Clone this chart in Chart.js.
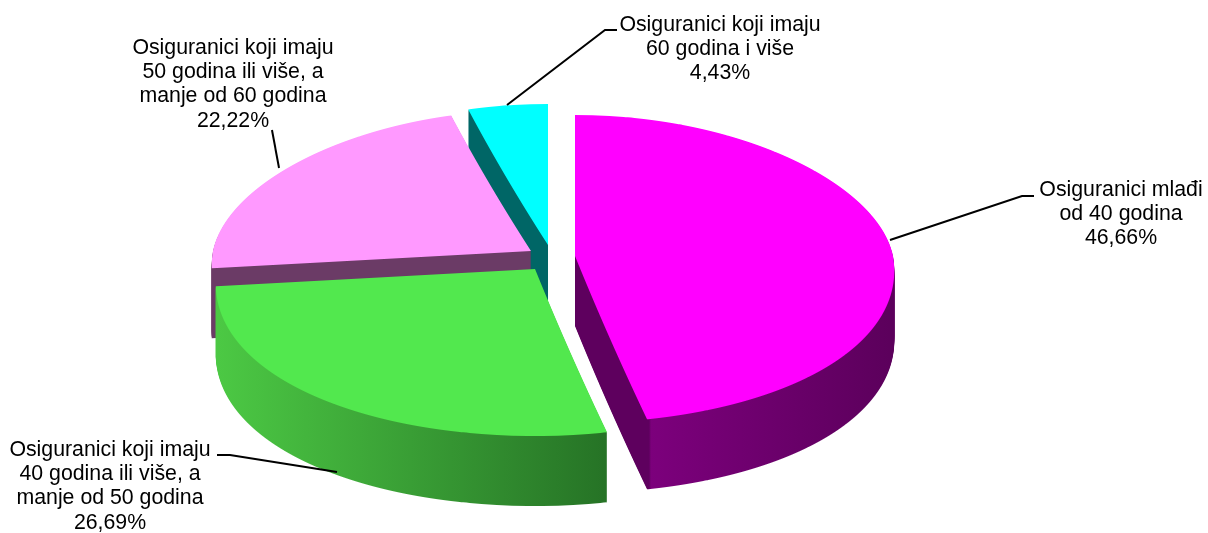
<!DOCTYPE html>
<html>
<head>
<meta charset="utf-8">
<title>Osiguranici</title>
<script src="https://cdn.jsdelivr.net/npm/chart.js@4"></script>
<style>
    html, body { margin: 0; background: #fff; }
    canvas { display: block; }
</style>
</head>
<body>
<canvas id="pie" width="1208" height="533"></canvas>
<script>
const categories = [
    ['Osiguranici mlađi', 'od 40 godina'],
    ['Osiguranici koji imaju', '40 godina ili više, a', 'manje od 50 godina'],
    ['Osiguranici koji imaju', '50 godina ili više, a', 'manje od 60 godina'],
    ['Osiguranici koji imaju', '60 godina i više']
];
const shares = [46.66, 26.69, 22.22, 4.43];
const shareLabels = ['46,66%', '26,69%', '22,22%', '4,43%'];
const faceColors = ['#ff00ff', '#52e84e', '#ff99ff', '#00ffff'];

// bočne strane, prelaz po x osi: [x, boja]
const wallStops = [
    [[575, '#5e005e'], [649, '#5e005e'], [651, '#7c007c'], [890, '#5c005c']],
    [[215, '#4cc944'], [606, '#267326']],
    [[212, '#6b3b66'], [530, '#6b3b66']],
    [[467, '#006666'], [548, '#006666']]
];
const explode = [0.0727, 0.09, 0.08, 0.087];

// izgled pite
const RX = 318, RY_BACK = 141, RY_FRONT = 167, DEPTH = 70, PERSPECTIVE = 0.09;

// tekst i linije do tekstova
const labelBoxes = [
    { x: 1121, y: 190 },
    { x: 110, y: 450 },
    { x: 233, y: 48 },
    { x: 720, y: 25 }
];
const LINE_HEIGHT = 24.3;
const leaders = [
    [[890, 240], [1022, 196], [1034, 196]],
    [[337, 472], [230, 455], [217, 455]],
    [[279, 168], [272, 130]],
    [[507, 105], [605, 30], [617, 30]]
];

function paintFace(arc, ax, ay, w, h) {
    const face = document.createElement('canvas');
    face.width = w;
    face.height = h;
    const fctx = face.getContext('2d');
    const R = arc.outerRadius;

    // crta se red po red da bi se dobila perspektiva
    for (let y = ay - RY_BACK - 4; y < ay + RY_FRONT + 4; y++) {
        const t = ay - (y + 0.5);
        const ry = t > 0 ? RY_BACK : RY_FRONT;
        const scaleX = RX * (1 - PERSPECTIVE * (t / ry)) / R;
        fctx.save();
        fctx.beginPath();
        fctx.rect(0, y, w, 1);
        fctx.clip();
        fctx.translate(ax, ay);
        fctx.scale(scaleX, ry / R);
        fctx.translate(-arc.x, -arc.y);
        arc.draw(fctx);
        fctx.restore();
    }
    return face;
}

function paintWall(face, index) {
    const wall = document.createElement('canvas');
    wall.width = face.width;
    wall.height = face.height;
    const wctx = wall.getContext('2d');
    for (let d = DEPTH; d > 0; d--) {
        wctx.drawImage(face, 0, d);
    }
    const stops = wallStops[index];
    const first = stops[0][0], last = stops[stops.length - 1][0];
    const grad = wctx.createLinearGradient(first, 0, last, 0);
    stops.forEach(s => grad.addColorStop((s[0] - first) / (last - first), s[1]));
    wctx.globalCompositeOperation = 'source-in';
    wctx.fillStyle = grad;
    wctx.fillRect(0, 0, wall.width, wall.height);
    return wall;
}

const tiltedPie = {
    id: 'tiltedPie',
    beforeDatasetsDraw(chart) {
        const ctx = chart.ctx;
        const arcs = chart.getDatasetMeta(0).data;

        // od zadnjeg ka prednjem isečku
        for (let i = arcs.length - 1; i >= 0; i--) {
            const arc = arcs[i];
            const mid = (arc.startAngle + arc.endAngle) / 2;
            const dy = Math.sin(mid);
            const ax = Math.round(arc.x + Math.cos(mid) * explode[i] * RX);
            const ay = Math.round(arc.y + dy * explode[i] * (dy < 0 ? RY_BACK : RY_FRONT));
            const face = paintFace(arc, ax, ay, chart.width, chart.height);
            ctx.drawImage(paintWall(face, i), 0, 0);
            ctx.drawImage(face, 0, 0);
        }
        return false;
    },
    afterDraw(chart) {
        const ctx = chart.ctx;
        ctx.save();
        ctx.strokeStyle = '#000';
        ctx.lineWidth = 2;
        leaders.forEach(pts => {
            ctx.beginPath();
            pts.forEach((p, i) => i ? ctx.lineTo(p[0], p[1]) : ctx.moveTo(p[0], p[1]));
            ctx.stroke();
        });
        ctx.fillStyle = '#000';
        ctx.font = '21.3px "Liberation Sans"';
        ctx.textAlign = 'center';
        ctx.textBaseline = 'middle';
        categories.forEach((lines, i) => {
            const box = labelBoxes[i];
            lines.concat(shareLabels[i]).forEach((line, n) => {
                ctx.fillText(line, box.x, box.y + n * LINE_HEIGHT);
            });
        });
        ctx.restore();
    }
};

new Chart(document.getElementById('pie'), {
    type: 'pie',
    data: {
        labels: categories.map(c => c.join(' ')),
        datasets: [{
            data: shares,
            backgroundColor: faceColors,
            borderWidth: 0
        }]
    },
    options: {
        responsive: false,
        animation: false,
        layout: { padding: { right: 104, bottom: 19 } },
        plugins: { legend: { display: false }, tooltip: { enabled: false } }
    },
    plugins: [tiltedPie]
});
</script>
</body>
</html>
